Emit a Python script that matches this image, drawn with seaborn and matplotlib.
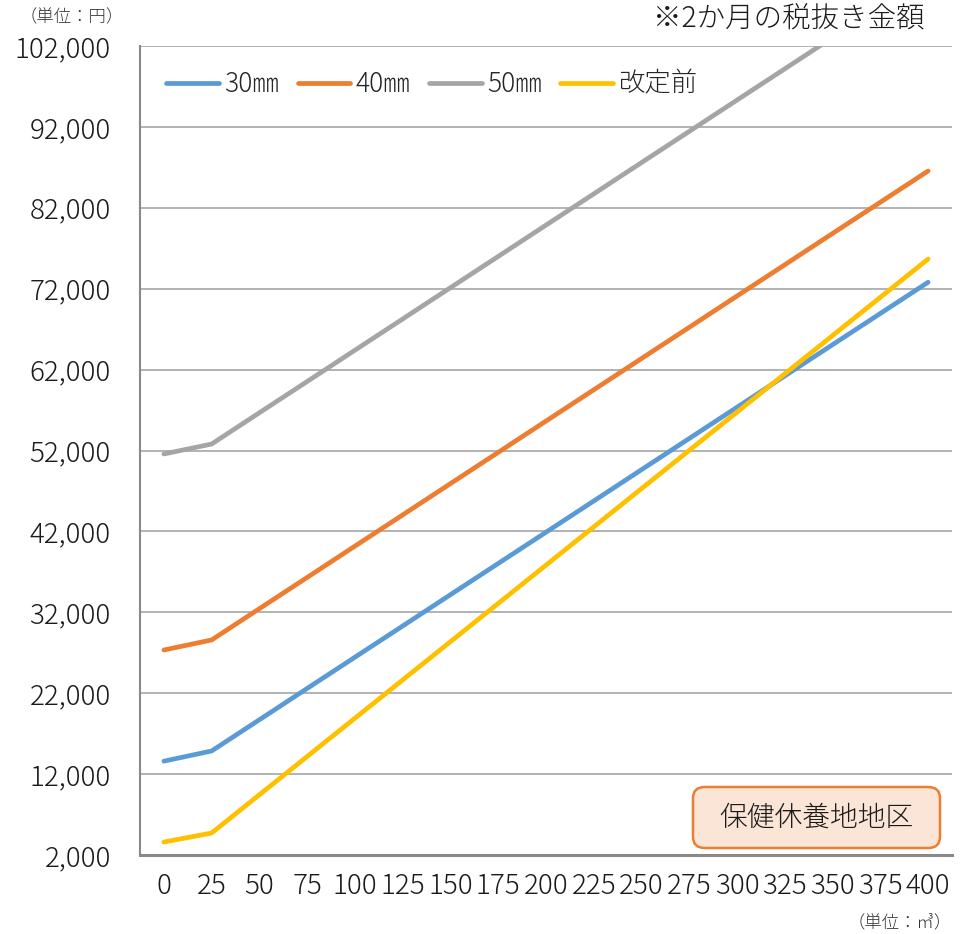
import matplotlib
matplotlib.use("Agg")
import matplotlib.pyplot as plt
import seaborn as sns
import pandas as pd
from matplotlib.patches import FancyBboxPatch
from matplotlib.ticker import FuncFormatter

usage = [0, 25, 50, 75, 100, 125, 150, 175, 200, 225, 250, 275, 300, 325, 350, 375, 400]
s30 = [13600, 14860, 18720, 22590, 26450, 30310, 34180, 38040, 41900, 45760, 49630, 53490, 57350, 61220, 65080, 68940, 72800]
s40 = [27340, 28580, 32450, 36310, 40180, 44040, 47910, 51770, 55640, 59500, 63370, 67230, 71100, 74960, 78830, 82690, 86550]
s50 = [51570, 52800, 56670, 60530, 64400, 68260, 72130, 75990, 79860, 83720, 87590, 91450, 95320, 99180, 103050, 106910, 110780]
old = [3600, 4720, 9450, 14180, 18910, 23640, 28370, 33100, 37830, 42560, 47290, 52020, 56750, 61480, 66210, 70940, 75670]
y_ticks = [2000, 12000, 22000, 32000, 42000, 52000, 62000, 72000, 82000, 92000, 102000]
series_names = ["30㎜", "40㎜", "50㎜", "改定前"]
colors = ["#5b9bd5", "#ed7d31", "#a5a5a5", "#ffc000"]

rows = []
for name, vals in zip(series_names, [s30, s40, s50, old]):
    for x, v in zip(usage, vals):
        rows.append({"usage": x, "value": v, "series": name})
df = pd.DataFrame(rows)

sns.set_theme(style="white")
plt.rcParams['font.family'] = ['Noto Sans CJK JP', 'DejaVu Sans']

fig = plt.figure(figsize=(9.72, 9.34), dpi=100)
ax = fig.add_axes([140/972, 1-855/934, (952-140)/972, (855-46)/934])

sns.lineplot(data=df, x="usage", y="value", hue="series", hue_order=series_names,
             palette=dict(zip(series_names, colors)), linewidth=3.4, ax=ax,
             solid_capstyle="round", legend=True)

ax.set_xlim(-12.5, 412.5)
ax.set_ylim(2000, 102000)
ax.set_yticks(y_ticks)
ax.set_xticks(usage)
ax.set_xticklabels([str(u) for u in usage])
ax.yaxis.set_major_formatter(FuncFormatter(lambda v, p: f"{int(v):,}"))
ax.grid(axis="y", color="#a6a6a6", linewidth=1.2)
ax.set_axisbelow(True)
ax.tick_params(axis="both", length=0, labelsize=20, colors="#1a1a1a")
for lab in ax.get_xticklabels() + ax.get_yticklabels():
    lab.set_fontweight("light")
ax.tick_params(axis="y", pad=21)
ax.tick_params(axis="x", pad=12)
ax.set_xlabel("")
ax.set_ylabel("")
for s in ["top", "right"]:
    ax.spines[s].set_visible(False)
ax.spines["left"].set_color("#898989")
ax.spines["left"].set_linewidth(1.5)
ax.spines["bottom"].set_color("#898989")
ax.spines["bottom"].set_linewidth(2.2)

handles, labels = ax.get_legend_handles_labels()
leg = ax.legend(handles, labels, loc="upper left", ncol=4, frameon=False, fontsize=19,
                handlelength=2.0, handletextpad=0.2, columnspacing=0.7,
                bbox_to_anchor=(0.0, 1.003), borderaxespad=0.6)
for t in leg.get_texts():
    t.set_fontweight("light")

fig.text(925/972, 1-18/934, "※2か月の税抜き金額", fontsize=20.5, ha="right", va="center",
         color="#1a1a1a", fontweight="light")
fig.text(72/972, 1-17/934, "（単位：円）", fontsize=12.5, ha="center", va="center", color="#333333",
         fontweight="light")
fig.text(952/972, 1-922/934, "（単位：㎥）", fontsize=12.5, ha="right", va="center", color="#333333",
         fontweight="light")

box = FancyBboxPatch((693/972, 1-848/934), (940-693)/972, (848-787)/934,
                     boxstyle="round,pad=0,rounding_size=0.012", transform=fig.transFigure,
                     facecolor="#fbe5d6", edgecolor="#ed7d31", linewidth=1.8, zorder=5)
fig.patches.append(box)
fig.text((693+940)/2/972, 1-817.5/934, "保健休養地地区", fontsize=20, ha="center", va="center",
         color="#1a1a1a", zorder=6, fontweight="light")

fig.savefig("out.png", dpi=100)
